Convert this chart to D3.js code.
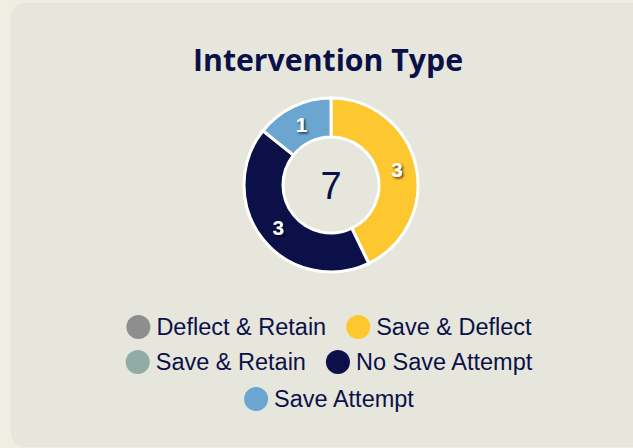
<!DOCTYPE html>
<html>
<head>
<meta charset="utf-8">
<script src="https://cdn.jsdelivr.net/npm/d3@7"></script>
<style>
  html, body { margin: 0; padding: 0; background: #eeeee3; overflow: hidden; }
  svg { display: block; }
</style>
</head>
<body>
<svg id="chart" width="633" height="448"></svg>
<script>
// Intervention counts by type
const categories = ["Deflect & Retain", "Save & Deflect", "Save & Retain", "No Save Attempt", "Save Attempt"];
const counts = [0, 3, 0, 3, 1];
const colors = ["#8e8e8e", "#fdc72f", "#8fada4", "#0b1148", "#6aa6cf"];
const titleText = "Intervention Type";

const svg = d3.select("#chart");
const navy = "#0b1148";

// card panel
svg.append("rect")
  .attr("x", 11).attr("y", 3)
  .attr("width", 660).attr("height", 444)
  .attr("rx", 14).attr("fill", "#e6e6dd");

// drop shadow for slice labels
const defs = svg.append("defs");
const f = defs.append("filter").attr("id", "lblShadow")
  .attr("x", "-50%").attr("y", "-50%").attr("width", "200%").attr("height", "200%");
f.append("feDropShadow").attr("dx", 1.5).attr("dy", 1.5)
  .attr("stdDeviation", 1.2).attr("flood-color", "#000").attr("flood-opacity", 0.7);

svg.append("text")
  .attr("x", 328).attr("y", 71)
  .attr("text-anchor", "middle")
  .attr("font-family", "'Open Sans', sans-serif")
  .attr("font-weight", 700)
  .attr("font-size", 31)
  .attr("textLength", 270)
  .attr("lengthAdjust", "spacingAndGlyphs")
  .attr("fill", navy)
  .text(titleText);

const cx = 331, cy = 185, outerR = 87, innerR = 48;
const data = categories.map((c, i) => ({ name: c, value: counts[i], color: colors[i] }));
const total = d3.sum(counts);

const pie = d3.pie().sort(null).value(d => d.value);
const arc = d3.arc().innerRadius(innerR).outerRadius(outerR);
const labelArc = d3.arc().innerRadius((innerR + outerR) / 2).outerRadius((innerR + outerR) / 2);

const arcs = pie(data).filter(d => d.data.value > 0);
const g = svg.append("g").attr("transform", `translate(${cx},${cy})`);

g.selectAll("path.slice").data(arcs).join("path")
  .attr("class", "slice")
  .attr("d", arc)
  .attr("fill", d => d.data.color)
  .attr("stroke", "#fff")
  .attr("stroke-width", 3);

g.selectAll("text.val").data(arcs).join("text")
  .attr("class", "val")
  .attr("transform", d => `translate(${labelArc.centroid(d)})`)
  .attr("text-anchor", "middle")
  .attr("dominant-baseline", "central")
  .attr("font-family", "'Liberation Sans', Arial, sans-serif")
  .attr("font-weight", 700)
  .attr("font-size", 21)
  .attr("fill", "#fff")
  .attr("filter", "url(#lblShadow)")
  .text(d => d.data.value);

g.append("text")
  .attr("text-anchor", "middle")
  .attr("dominant-baseline", "central")
  .attr("y", 1)
  .attr("font-family", "'Liberation Sans', Arial, sans-serif")
  .attr("font-size", 38)
  .attr("fill", navy)
  .text(total);

// legend: centered wrapping rows
const legendFont = 23.5, dotR = 12, dotGap = 6, itemGap = 20, maxRowW = 440;
const legendCx = 329, rowY = [327, 362, 399];
const measure = svg.append("text")
  .attr("font-family", "'Liberation Sans', Arial, sans-serif")
  .attr("font-size", legendFont).attr("visibility", "hidden");
const items = data.map(d => {
  measure.text(d.name);
  return { ...d, w: dotR * 2 + dotGap + measure.node().getComputedTextLength() };
});
measure.remove();

const rows = [];
let cur = [], curW = 0;
items.forEach(it => {
  const add = cur.length ? itemGap + it.w : it.w;
  if (cur.length && curW + add > maxRowW) { rows.push({ items: cur, w: curW }); cur = [it]; curW = it.w; }
  else { cur.push(it); curW += add; }
});
if (cur.length) rows.push({ items: cur, w: curW });

const legend = svg.append("g");
rows.forEach((row, ri) => {
  let x = legendCx - row.w / 2;
  row.items.forEach(it => {
    const ig = legend.append("g").attr("transform", `translate(${x},${rowY[ri]})`);
    ig.append("circle").attr("cx", dotR).attr("cy", 0).attr("r", dotR).attr("fill", it.color);
    ig.append("text")
      .attr("x", dotR * 2 + dotGap).attr("y", 0)
      .attr("dominant-baseline", "central")
      .attr("font-family", "'Liberation Sans', Arial, sans-serif")
      .attr("font-size", legendFont)
      .attr("fill", navy)
      .text(it.name);
    x += it.w + itemGap;
  });
});
</script>
</body>
</html>
